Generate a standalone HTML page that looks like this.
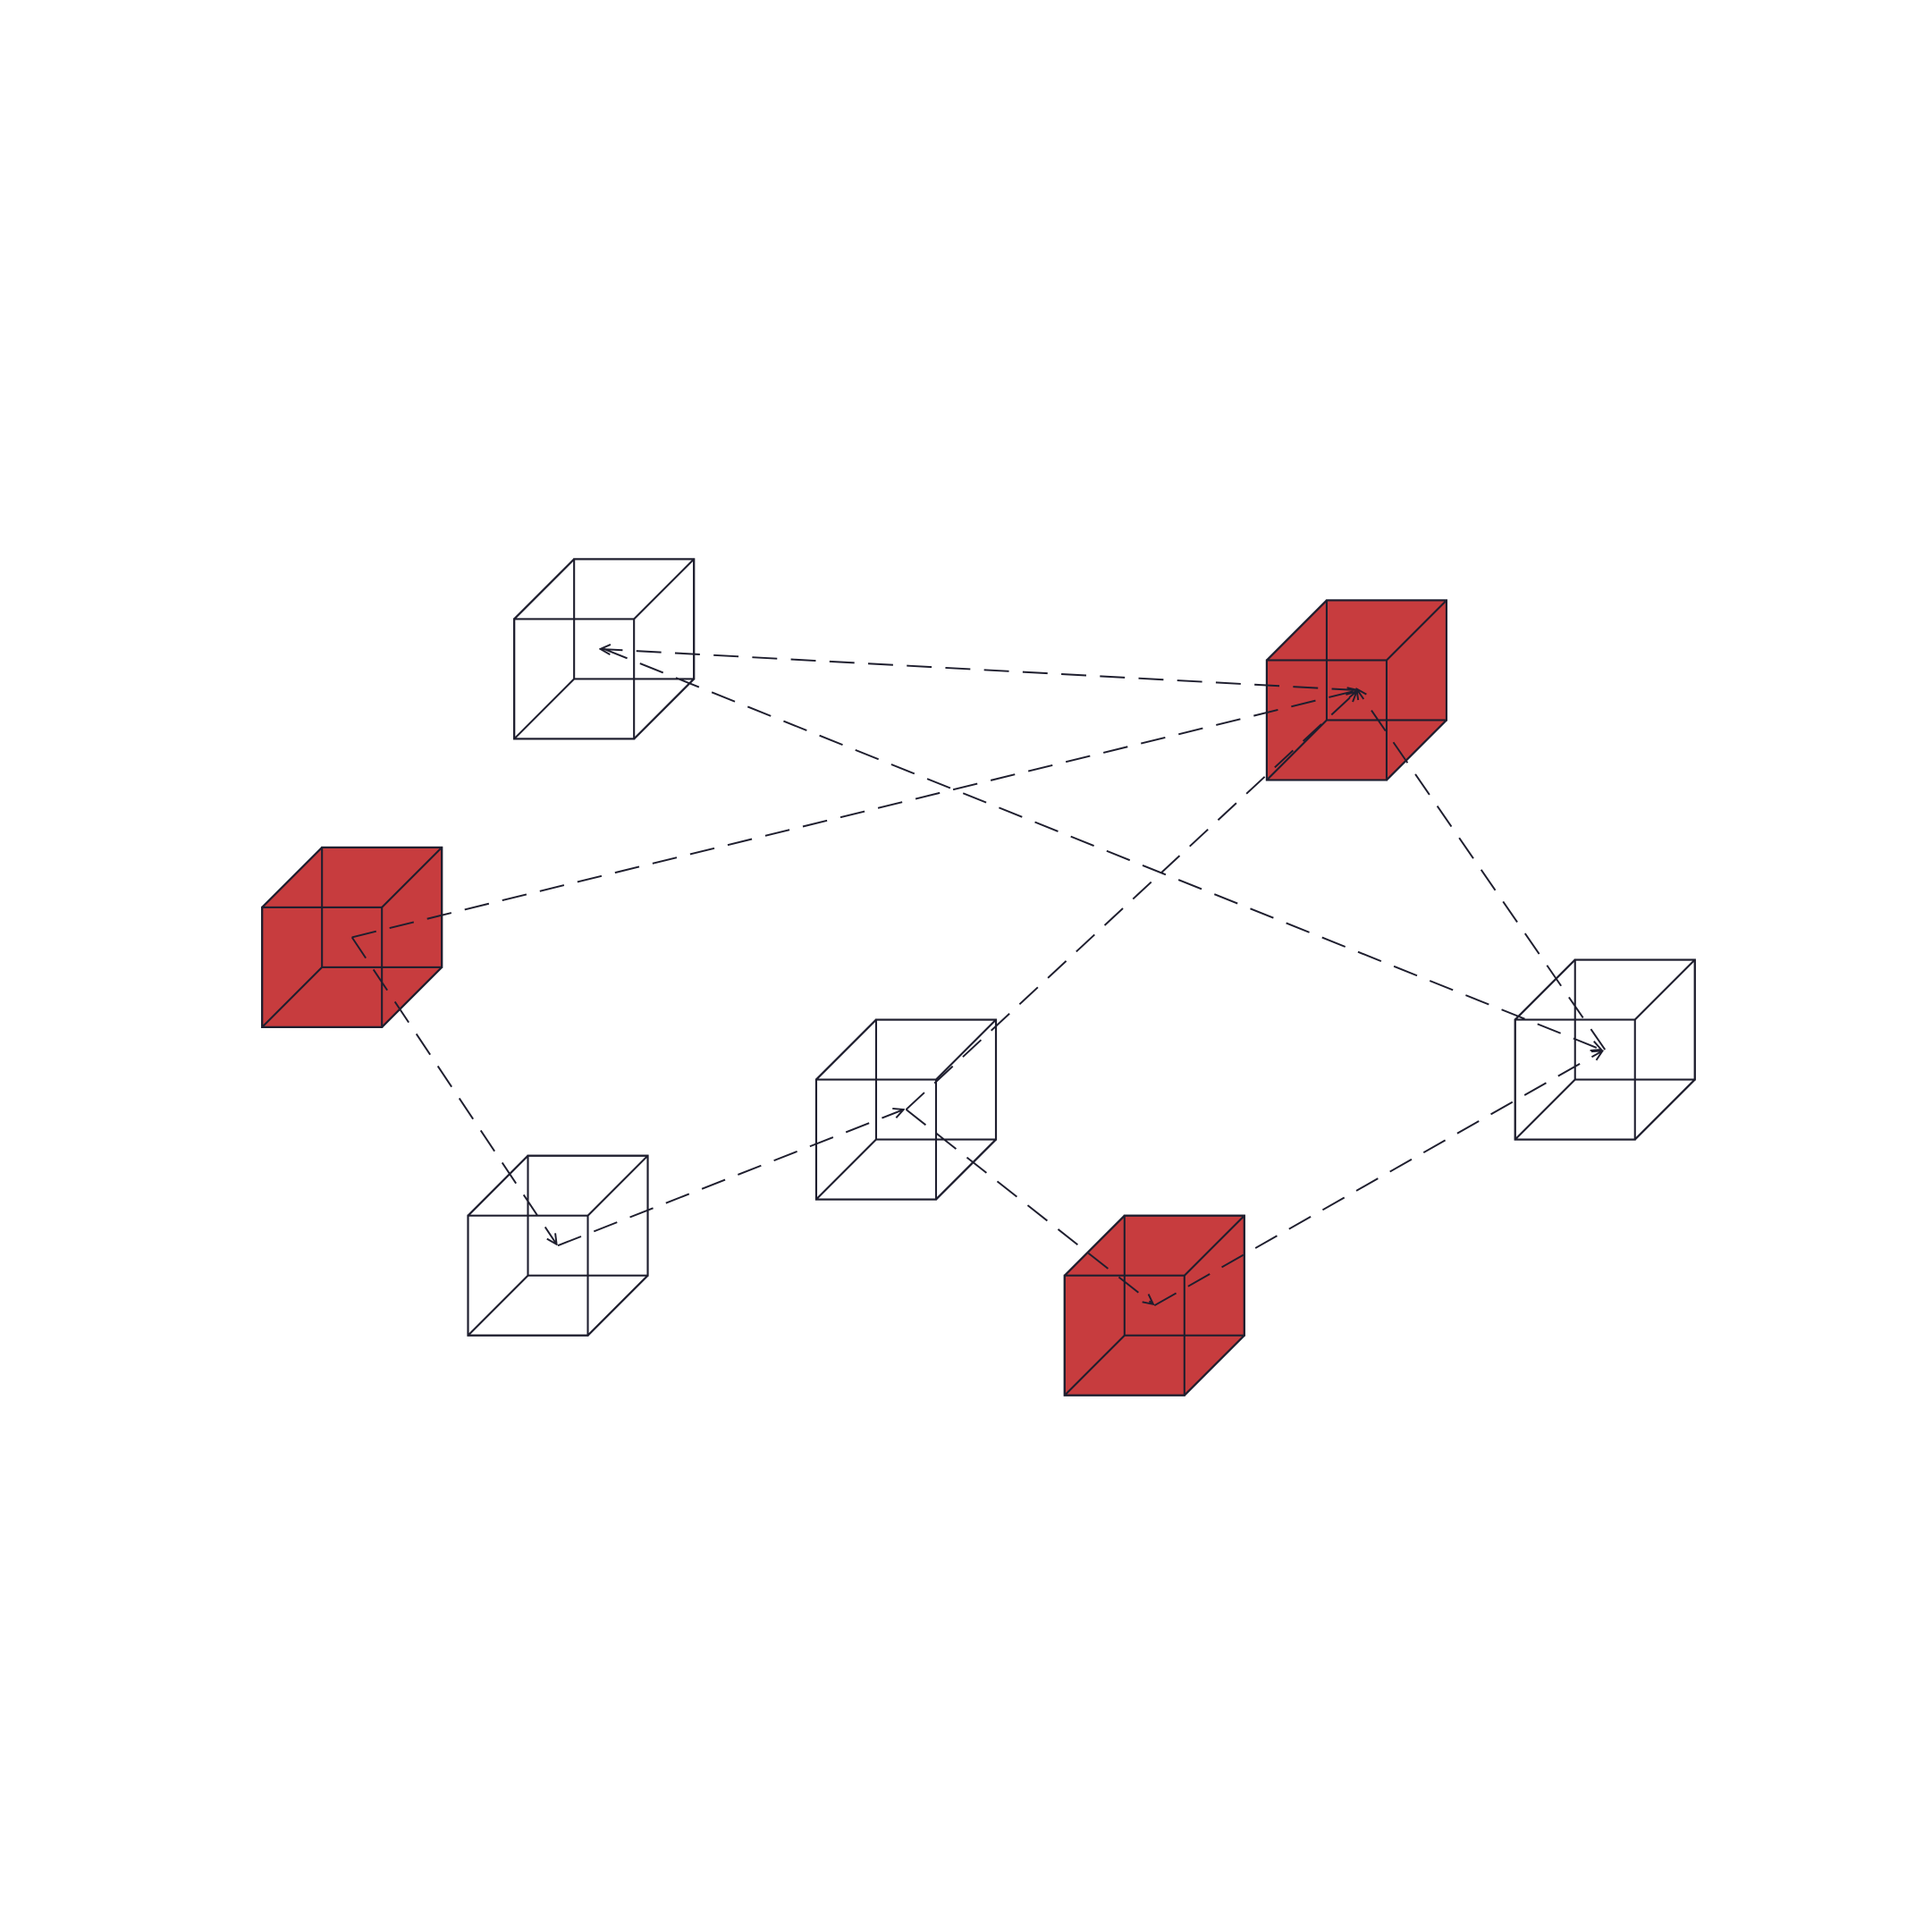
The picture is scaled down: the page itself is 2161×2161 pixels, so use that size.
<!DOCTYPE html>
<html><head><meta charset="utf-8"><style>
html,body{margin:0;padding:0;background:#fff;}
svg{display:block;}
</style></head><body>
<svg width="2161" height="2161" viewBox="0 0 1548 1548" xmlns="http://www.w3.org/2000/svg">
<defs>
<marker id="a" viewBox="0 0 10 10" refX="9" refY="5" markerWidth="10" markerHeight="10" markerUnits="userSpaceOnUse" orient="auto">
<path d="M1,1 L9,5 L1,9" fill="none" stroke="#1e1e2e" stroke-width="1.4"/>
</marker>
</defs>
<g stroke="#1e1e2e" stroke-width="1.5" stroke-linejoin="round">
<!-- cube template via groups -->
<g id="cubes">
</g>
</g>
<g stroke="#1e1e2e" stroke-width="1.5" fill="none">
<!-- C1 white -->
<g transform="translate(412,496)">
<path d="M0,0 L48,-48 L144,-48 L144,48 L96,96 L0,96 Z" fill="#fff"/>
<rect x="0" y="0" width="96" height="96"/><rect x="48" y="-48" width="96" height="96"/>
<path d="M0,0 L48,-48 M96,0 L144,-48 M96,96 L144,48 M0,96 L48,48"/>
</g>
<!-- C2 red -->
<g transform="translate(1015,529)">
<path d="M0,0 L48,-48 L144,-48 L144,48 L96,96 L0,96 Z" fill="#c73c3e"/>
<rect x="0" y="0" width="96" height="96"/><rect x="48" y="-48" width="96" height="96"/>
<path d="M0,0 L48,-48 M96,0 L144,-48 M96,96 L144,48 M0,96 L48,48"/>
</g>
<!-- C3 red -->
<g transform="translate(210,727)">
<path d="M0,0 L48,-48 L144,-48 L144,48 L96,96 L0,96 Z" fill="#c73c3e"/>
<rect x="0" y="0" width="96" height="96"/><rect x="48" y="-48" width="96" height="96"/>
<path d="M0,0 L48,-48 M96,0 L144,-48 M96,96 L144,48 M0,96 L48,48"/>
</g>
<!-- C4 white -->
<g transform="translate(654,865)">
<path d="M0,0 L48,-48 L144,-48 L144,48 L96,96 L0,96 Z" fill="#fff"/>
<rect x="0" y="0" width="96" height="96"/><rect x="48" y="-48" width="96" height="96"/>
<path d="M0,0 L48,-48 M96,0 L144,-48 M96,96 L144,48 M0,96 L48,48"/>
</g>
<!-- C5 white -->
<g transform="translate(375,974)">
<path d="M0,0 L48,-48 L144,-48 L144,48 L96,96 L0,96 Z" fill="#fff"/>
<rect x="0" y="0" width="96" height="96"/><rect x="48" y="-48" width="96" height="96"/>
<path d="M0,0 L48,-48 M96,0 L144,-48 M96,96 L144,48 M0,96 L48,48"/>
</g>
<!-- C6 red -->
<g transform="translate(853,1022)">
<path d="M0,0 L48,-48 L144,-48 L144,48 L96,96 L0,96 Z" fill="#c73c3e"/>
<rect x="0" y="0" width="96" height="96"/><rect x="48" y="-48" width="96" height="96"/>
<path d="M0,0 L48,-48 M96,0 L144,-48 M96,96 L144,48 M0,96 L48,48"/>
</g>
<!-- C7 white -->
<g transform="translate(1214,817)">
<path d="M0,0 L48,-48 L144,-48 L144,48 L96,96 L0,96 Z" fill="#fff"/>
<rect x="0" y="0" width="96" height="96"/><rect x="48" y="-48" width="96" height="96"/>
<path d="M0,0 L48,-48 M96,0 L144,-48 M96,96 L144,48 M0,96 L48,48"/>
</g>
</g>
<g stroke="#1e1e2e" stroke-width="1.4" fill="none" stroke-dasharray="20 11" marker-end="url(#a)">
<line x1="1087" y1="553" x2="481" y2="520"/>
<line x1="484" y1="520" x2="1283" y2="841"/>
<line x1="282" y1="751" x2="1088" y2="553"/>
<line x1="726" y1="889" x2="1087" y2="554"/>
<line x1="1286" y1="841" x2="1087" y2="552"/>
<line x1="282" y1="751" x2="446" y2="997"/>
<line x1="447" y1="998" x2="724" y2="889"/>
<line x1="726" y1="889" x2="924" y2="1045"/>
<line x1="925" y1="1046" x2="1284" y2="842"/>
</g>
</svg>
</body></html>
